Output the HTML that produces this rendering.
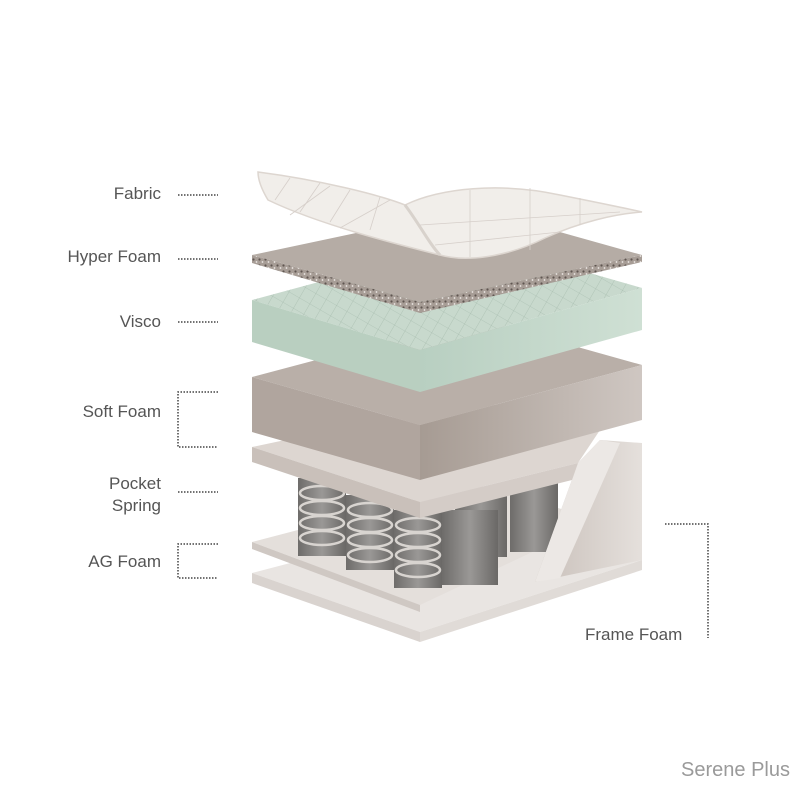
<!DOCTYPE html>
<html><head><style>
html,body{margin:0;padding:0;background:#fff;}
svg{display:block}
text{font-family:"Liberation Sans",sans-serif;fill:#555;font-size:17px}
</style></head><body>
<svg width="800" height="800" viewBox="0 0 800 800" xmlns="http://www.w3.org/2000/svg">
<defs>
<linearGradient id="cyl" x1="0" x2="1" y1="0" y2="0">
<stop offset="0" stop-color="#6e6c6a"/><stop offset="0.5" stop-color="#9a9896"/><stop offset="1" stop-color="#6a6866"/></linearGradient>
<linearGradient id="vr" x1="0" x2="1"><stop offset="0" stop-color="#b8cfc1"/><stop offset="1" stop-color="#cfe0d4"/></linearGradient>
<linearGradient id="sr" x1="0" x2="1"><stop offset="0" stop-color="#a69b93"/><stop offset="1" stop-color="#cfc7c2"/></linearGradient>
<linearGradient id="br" x1="0" x2="1"><stop offset="0" stop-color="#c8bfb9"/><stop offset="1" stop-color="#e5e0dc"/></linearGradient>
<pattern id="grid" width="12" height="12" patternUnits="userSpaceOnUse" patternTransform="rotate(30)">
<path d="M0 0H12M0 0V12" stroke="#9fb5a7" stroke-width="0.6" fill="none"/></pattern>
<pattern id="speck" width="6" height="6" patternUnits="userSpaceOnUse">
<rect width="6" height="6" fill="#a79d96"/><circle cx="1.5" cy="1.5" r="1.1" fill="#5f5651"/><circle cx="4.5" cy="4" r="0.9" fill="#ece8e4"/></pattern>
</defs>

<!-- bottom AG board -->
<polygon points="252,573 474,515 642,560 420,632" fill="#e9e5e2"/>
<polygon points="252,573 420,632 420,642 252,583" fill="#d9d3cf"/>
<polygon points="420,632 642,560 642,570 420,642" fill="#e0dbd7"/>

<!-- middle AG board -->
<polygon points="252,542 474,484 600,520 420,605" fill="#e4dfdb"/>
<polygon points="252,542 420,605 420,612 252,549" fill="#cfc8c3"/>

<!-- springs back row -->
<rect x="510" y="482" width="48" height="70" fill="url(#cyl)"/>
<rect x="455" y="495" width="52" height="62" fill="url(#cyl)"/>
<!-- springs front row -->
<rect x="298" y="478" width="48" height="78" fill="url(#cyl)"/>
<rect x="346" y="495" width="48" height="75" fill="url(#cyl)"/>
<rect x="394" y="510" width="48" height="78" fill="url(#cyl)"/>
<rect x="442" y="510" width="56" height="75" fill="url(#cyl)"/>
<g fill="none" stroke="#d8d4d0" stroke-width="2.5">
<ellipse cx="322" cy="493" rx="22" ry="7"/><ellipse cx="322" cy="508" rx="22" ry="7"/><ellipse cx="322" cy="523" rx="22" ry="7"/><ellipse cx="322" cy="538" rx="22" ry="7"/>
<ellipse cx="370" cy="510" rx="22" ry="7"/><ellipse cx="370" cy="525" rx="22" ry="7"/><ellipse cx="370" cy="540" rx="22" ry="7"/><ellipse cx="370" cy="555" rx="22" ry="7"/>
<ellipse cx="418" cy="525" rx="22" ry="7"/><ellipse cx="418" cy="540" rx="22" ry="7"/><ellipse cx="418" cy="555" rx="22" ry="7"/><ellipse cx="418" cy="570" rx="22" ry="7"/>
</g>

<!-- frame foam -->
<polygon points="578,463 600,440 642,443 642,560 535,582" fill="url(#br)"/>
<polygon points="578,463 600,440 620,443 560,578 535,582" fill="#ece8e5"/>

<!-- spring top board -->
<polygon points="252,447 474,400 600,430 578,463 420,502" fill="#ddd6d1"/>
<polygon points="252,447 420,502 420,518 252,462" fill="#c9c0ba"/>
<polygon points="420,502 578,463 572,480 420,518" fill="#d4ccc7"/>

<!-- soft foam -->
<polygon points="252,377 474,318 642,365 420,425" fill="#b9afa8"/>
<polygon points="252,377 420,425 420,480 252,432" fill="#b0a59e"/>
<polygon points="420,425 642,365 642,420 420,480" fill="url(#sr)"/>

<!-- visco -->
<polygon points="252,300 474,240 642,288 420,350" fill="#c8d9cd"/>
<polygon points="252,300 474,240 642,288 420,350" fill="url(#grid)"/>
<polygon points="252,300 420,350 420,392 252,342" fill="#b9cfc0"/>
<polygon points="420,350 642,288 642,330 420,392" fill="url(#vr)"/>

<!-- hyper foam -->
<polygon points="252,255 474,208 642,255 420,302" fill="#b5aca5"/>
<polygon points="252,255 420,302 420,313 252,263" fill="url(#speck)"/>
<polygon points="420,302 642,255 642,262 420,313" fill="url(#speck)"/>

<!-- fabric -->
<path d="M258,172 C320,180 380,195 405,205 C440,188 500,182 560,195 C600,203 625,208 642,212 C615,214 580,222 545,238 C505,258 465,262 440,255 C400,245 320,225 268,200 C262,190 258,180 258,172 Z" fill="#f1eeea" stroke="#ddd6d0" stroke-width="1.5"/>
<path d="M405,205 C420,225 430,245 440,255" fill="none" stroke="#d8d2cc" stroke-width="3"/>
<g stroke="#d6cfca" stroke-width="0.8" fill="none">
<path d="M290,178 L275,200"/><path d="M320,183 L300,212"/><path d="M350,190 L330,222"/><path d="M380,197 L370,230"/>
<path d="M290,215 L330,186"/><path d="M340,228 L390,200"/>
<path d="M470,190 L470,257"/><path d="M530,188 L530,250"/><path d="M580,198 L580,225"/>
<path d="M420,225 L620,212"/><path d="M435,245 L560,232"/>
</g>

<!-- labels -->
<g text-anchor="end">
<text x="161" y="199">Fabric</text>
<text x="161" y="262">Hyper Foam</text>
<text x="161" y="327">Visco</text>
<text x="161" y="417">Soft Foam</text>
<text x="161" y="489">Pocket</text>
<text x="161" y="511">Spring</text>
<text x="161" y="567">AG Foam</text>
</g>
<text x="585" y="640">Frame Foam</text>
<text x="790" y="776" text-anchor="end" style="font-size:20px;fill:#9a9a9a">Serene Plus</text>

<g stroke="#444" stroke-width="1.5" stroke-dasharray="1.5,1.5" fill="none">
<path d="M178,195H218"/><path d="M178,259H218"/><path d="M178,322H218"/>
<path d="M218,392H178V447H218"/>
<path d="M178,492H218"/>
<path d="M218,544H178V578H218"/>
<path d="M665,524H708V638"/>
</g>
</svg>
</body></html>
